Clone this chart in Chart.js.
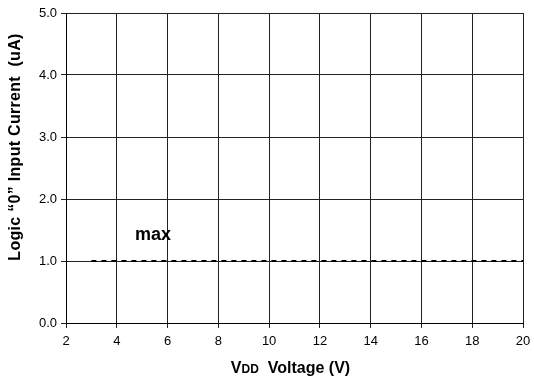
<!DOCTYPE html>
<html>
<head>
<meta charset="utf-8">
<script src="https://cdn.jsdelivr.net/npm/chart.js@4.4.1/dist/chart.umd.min.js"></script>
<style>
html,body{margin:0;padding:0;background:#fff;}
#wrap{width:534px;height:379px;}
</style>
</head>
<body>
<div id="wrap"><canvas id="c" width="534" height="379"></canvas></div>
<script>
// Data
const xTicks = [2, 4, 6, 8, 10, 12, 14, 16, 18, 20];
const yTicks = [0, 1, 2, 3, 4, 5];
const maxVoltage = [3, 20];
const maxCurrent = [1.0, 1.0];
const annotationText = 'max';
const annotationPos = [4.72, 1.34];
const xTitleMain = 'V';
const xTitleSub = 'DD';
const xTitleRest = '  Voltage (V)';
const yTitle = 'Logic \u201C0\u201D Input Current  (uA)';

const FONT = "'Liberation Sans', Arial, sans-serif";

const textPlugin = {
  id: 'textPlugin',
  afterDraw(chart) {
    const ctx = chart.ctx;
    const xs = chart.scales.x, ys = chart.scales.y;
    ctx.save();
    // annotation
    ctx.fillStyle = '#000';
    ctx.font = 'bold 18px ' + FONT;
    ctx.textAlign = 'left';
    ctx.textBaseline = 'alphabetic';
    ctx.fillText(annotationText, xs.getPixelForValue(annotationPos[0]), ys.getPixelForValue(annotationPos[1]));
    // x title
    const big = 'bold 16px ' + FONT, small = 'bold 12px ' + FONT;
    ctx.font = big; const w1 = ctx.measureText(xTitleMain).width;
    const w3 = ctx.measureText(xTitleRest).width;
    ctx.font = small; const w2 = ctx.measureText(xTitleSub).width;
    const total = w1 + w2 + w3;
    let x0 = 290.5 - total / 2;
    const yb = 373;
    ctx.font = big; ctx.fillText(xTitleMain, x0, yb);
    ctx.font = small; ctx.fillText(xTitleSub, x0 + w1, yb);
    ctx.font = big; ctx.fillText(xTitleRest, x0 + w1 + w2, yb);
    // y title
    ctx.translate(16, 147);
    ctx.rotate(-Math.PI / 2);
    ctx.textAlign = 'center';
    ctx.textBaseline = 'middle';
    ctx.font = 'bold 16px ' + FONT;
    ctx.letterSpacing = '0.3px';
    ctx.fillText(yTitle, 0, 0);
    ctx.restore();
  }
};

new Chart(document.getElementById('c'), {
  type: 'scatter',
  data: {
    datasets: [{
      data: maxVoltage.map((v, i) => ({x: v, y: maxCurrent[i]})),
      showLine: true,
      borderColor: '#000',
      borderWidth: 2,
      borderDash: [5, 5],
      pointRadius: 0,
      fill: false
    }]
  },
  options: {
    responsive: false,
    animation: false,
    layout: {padding: {left: 0, right: 11, top: 13, bottom: 0}},
    plugins: {legend: {display: false}, tooltip: {enabled: false}},
    scales: {
      x: {
        type: 'linear', min: 2, max: 20,
        afterBuildTicks(s) { s.ticks = xTicks.map(v => ({value: v})); },
        afterFit(s) { s.height = 56; s.paddingLeft = 0; s.paddingRight = 0; },
        grid: {color: '#222', lineWidth: 1, tickLength: 5, drawOnChartArea: true},
        border: {color: '#000', width: 1},
        ticks: {color: '#000', font: {family: FONT, size: 13}, padding: 6, maxRotation: 0, autoSkip: false}
      },
      y: {
        type: 'linear', min: 0, max: 5,
        afterBuildTicks(s) { s.ticks = yTicks.map(v => ({value: v})); },
        afterFit(s) { s.width = 66; s.paddingTop = 0; s.paddingBottom = 0; },
        grid: {color: '#222', lineWidth: 1, tickLength: 5},
        border: {color: '#000', width: 1},
        ticks: {color: '#000', font: {family: FONT, size: 13}, padding: 4, callback: v => Number(v).toFixed(1)}
      }
    }
  },
  plugins: [textPlugin]
});
</script>
</body>
</html>
